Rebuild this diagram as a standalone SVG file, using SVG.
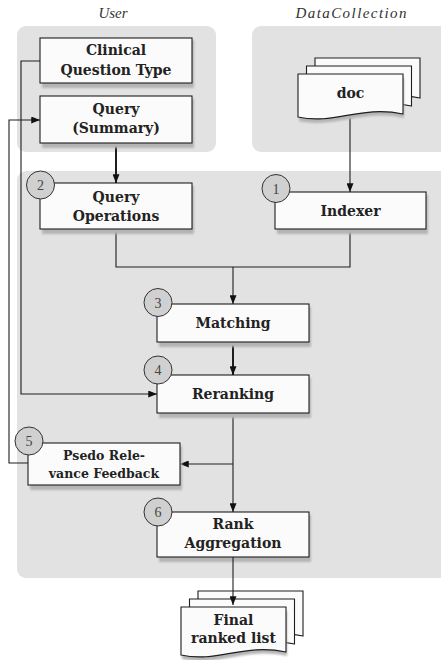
<svg xmlns="http://www.w3.org/2000/svg" width="441" height="660" viewBox="0 0 441 660">
<style>
.panel{fill:#e2e2e2;stroke:none}
.box{fill:#fbfbfb;stroke:#1e1e1e;stroke-width:1.1}
.sh{fill:#b4b4b4;filter:url(#blur)}
.lbl{font-family:"DejaVu Serif",serif;font-weight:bold;font-size:14px;fill:#222;text-anchor:middle}
.num{font-family:"Liberation Serif",serif;font-size:14px;fill:#444;text-anchor:middle}
.circ{fill:#d0d0d0;stroke:#333;stroke-width:1}
.ttl{font-family:"Liberation Serif",serif;font-style:italic;font-size:15px;fill:#333;text-anchor:middle}
.c{fill:none;stroke:#1e1e1e;stroke-width:1.1}
.thick{stroke-width:2}
</style>
<defs>
<filter id="blur" x="-10%" y="-20%" width="120%" height="140%"><feGaussianBlur stdDeviation="1"/></filter>
<marker id="ah" viewBox="0 0 10 8" refX="10" refY="4" markerWidth="9" markerHeight="7" markerUnits="userSpaceOnUse" orient="auto"><path d="M0,0 L10,4 L0,8 Z" fill="#111"/></marker>
</defs>

<g id="panels">
<rect class="panel" x="17" y="26" width="199" height="126" rx="9"/>
<rect class="panel" x="252" y="26" width="200" height="126" rx="9"/>
<rect class="panel" x="17" y="171" width="440" height="407" rx="9"/>
<text class="ttl" x="113" y="18">User</text>
<text class="ttl" x="351" y="18" textLength="111" lengthAdjust="spacing">DataCollection</text>
</g>

<g id="connectors">
<path class="c thick" d="M116,143 V183" marker-end="url(#ah)"/>
<path class="c" d="M350,118 V192" marker-end="url(#ah)"/>
<path class="c" d="M116,229 V267 H350 V229"/>
<path class="c" d="M233,267 V304" marker-end="url(#ah)"/>
<path class="c thick" d="M233,342 V375" marker-end="url(#ah)"/>
<path class="c" d="M40,61 H21 V394 H157" marker-end="url(#ah)"/>
<path class="c" d="M28,463 H9 V120 H40" marker-end="url(#ah)"/>
<path class="c" d="M233,413 V512" marker-end="url(#ah)"/>
<path class="c" d="M233,464 H180" marker-end="url(#ah)"/>
</g>

<g id="clinical">
<rect class="sh" x="42" y="40" width="152" height="48"/>
<rect class="box" x="40" y="38" width="152" height="45"/>
<text class="lbl" x="116" y="55">Clinical</text>
<text class="lbl" x="116" y="75">Question Type</text>
</g>

<g id="query">
<rect class="sh" x="42" y="99" width="152" height="49"/>
<rect class="box" x="40" y="96" width="152" height="47"/>
<text class="lbl" x="116" y="114">Query</text>
<text class="lbl" x="116" y="133">(Summary)</text>
</g>

<g id="doc">
<path class="box" d="M315,58 H420 V98 C378,89 351.75,109 315,101 Z"/>
<path class="box" d="M306.5,66 H411.5 V106 C369.5,97 343.25,117 306.5,109 Z"/>
<path class="sh" d="M299,78 H404 V118 C362,109 335.75,129 299,121 Z"/>
<path class="box" d="M298,74 H403 V114 C361,105 334.75,125 298,117 Z"/>
<text class="lbl" x="350.5" y="98">doc</text>
</g>

<g id="queryops">
<rect class="sh" x="42" y="186" width="152" height="48"/>
<rect class="box" x="40" y="183" width="152" height="46"/>
<text class="lbl" x="116" y="202">Query</text>
<text class="lbl" x="116" y="221">Operations</text>
<circle class="circ" cx="40.5" cy="185" r="14"/>
<text class="num" x="40.5" y="190">2</text>
</g>

<g id="indexer">
<rect class="sh" x="277" y="195" width="151" height="39"/>
<rect class="box" x="275" y="192" width="151" height="37"/>
<text class="lbl" x="350.5" y="216">Indexer</text>
<circle class="circ" cx="276" cy="188.5" r="14"/>
<text class="num" x="276" y="193.5">1</text>
</g>

<g id="matching">
<rect class="sh" x="159" y="307" width="152" height="40"/>
<rect class="box" x="157" y="304" width="152" height="38"/>
<text class="lbl" x="233" y="328">Matching</text>
<circle class="circ" cx="158" cy="302.5" r="14"/>
<text class="num" x="158" y="307.5">3</text>
</g>

<g id="reranking">
<rect class="sh" x="159" y="378" width="152" height="40"/>
<rect class="box" x="157" y="375" width="152" height="38"/>
<text class="lbl" x="233" y="399">Reranking</text>
<circle class="circ" cx="158" cy="370" r="14"/>
<text class="num" x="158" y="375">4</text>
</g>

<g id="prf">
<rect class="sh" x="30" y="446" width="152" height="44"/>
<rect class="box" x="28" y="443" width="152" height="42"/>
<text class="lbl" x="104" y="460" style="font-size:12.5px">Psedo Rele-</text>
<text class="lbl" x="104" y="478" style="font-size:12.5px">vance Feedback</text>
<circle class="circ" cx="29" cy="441" r="14"/>
<text class="num" x="29" y="446">5</text>
</g>

<g id="rankagg">
<rect class="sh" x="159" y="515" width="152" height="47"/>
<rect class="box" x="157" y="512" width="152" height="45"/>
<text class="lbl" x="233" y="529">Rank</text>
<text class="lbl" x="233" y="548">Aggregation</text>
<circle class="circ" cx="158" cy="512" r="14"/>
<text class="num" x="158" y="517">6</text>
</g>

<g id="final">
<path class="box" d="M198,591 H303 V636 C261,627 234.75,647 198,639 Z"/>
<path class="box" d="M189.5,599 H294.5 V644 C252.5,635 226.25,655 189.5,647 Z"/>
<path class="sh" d="M182,611 H287 V656 C245,647 218.75,667 182,659 Z"/>
<path class="box" d="M181,607 H286 V652 C244,643 217.75,663 181,655 Z"/>
<text class="lbl" x="233.5" y="625">Final</text>
<text class="lbl" x="233.5" y="643">ranked list</text>
</g>
<path class="c" d="M233,557 V605" marker-end="url(#ah)"/>
</svg>
